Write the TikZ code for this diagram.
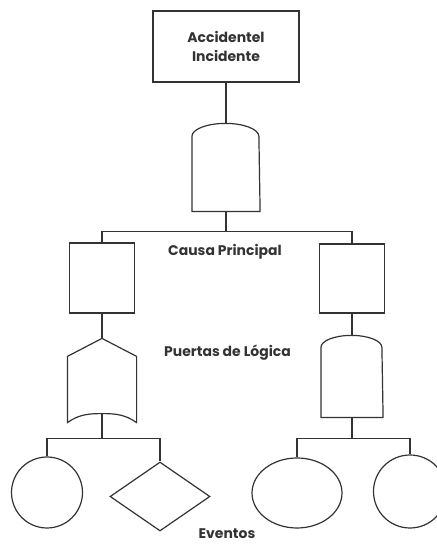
\documentclass[tikz,border=0pt]{standalone}
\usepackage{fontspec}
\setmainfont{Poppins}
\usetikzlibrary{shapes.geometric}

\begin{document}
\begin{tikzpicture}[x=1bp,y=1bp,
						color=black!80,
						line width=1.2bp,
						every node/.style={font=\bfseries\fontsize{14}{19}\selectfont},
						box/.style={draw,rectangle,inner sep=0pt},
						gatebox/.style={rectangle,inner sep=0pt}]

		\useasboundingbox (0,0) rectangle (437,544);

		\node[box,minimum width=146bp,minimum height=71bp,align=center] (top) at (226,497.5) {Accidentel\\Incidente};

		\node[gatebox,minimum width=67bp,minimum height=87bp] (and1) at (226,376.5) {};
		\node[box,minimum width=65bp,minimum height=70bp] (lcause) at (102,266) {};
		\node[box,minimum width=65bp,minimum height=69bp] (rcause) at (352,265.5) {};
		\node[gatebox,minimum width=68bp,minimum height=83bp] (or1) at (102,163.5) {};
		\node[gatebox,minimum width=61bp,minimum height=81bp] (and2) at (352,167.5) {};

		\node[draw,circle,minimum size=71bp,inner sep=0pt] (ev1) at (47,51.5) {};
		\node[draw,diamond,minimum width=100bp,minimum height=69bp,inner sep=0pt] (ev2) at (160,47.5) {};
		\node[draw,ellipse,minimum width=90bp,minimum height=70bp,inner sep=0pt] (ev3) at (297,51) {};
		\node[draw,circle,minimum size=73bp,inner sep=0pt] (ev4) at (410,52.5) {};

		\node (causa) at (225,292) {Causa Principal};
		\node (puertas) at (227.5,191) {Puertas de Lógica};
		\node[inner sep=1bp,text depth=0pt] (eventos) at (227,10) {Eventos};

		% gate outlines
		\draw (and1.south west) -- ([yshift=-13bp]and1.north west)
			arc[start angle=180,end angle=0,x radius=33.5bp,y radius=13bp] -- (and1.south east) -- cycle;
		\draw (and2.south west) -- ([yshift=-12bp]and2.north west)
			arc[start angle=180,end angle=0,x radius=30.5bp,y radius=12bp] -- (and2.south east) -- cycle;
		\draw ([yshift=-18bp]or1.north west) -- (or1.north) -- ([yshift=-18bp]or1.north east)
			-- (or1.south east) to[out=145,in=0] ([yshift=9bp]or1.south)
			to[out=180,in=35] (or1.south west) -- cycle;

		\draw (top) -- (and1);
		\draw (and1.south) -- ++(0,-20) -| (lcause.north);
		\draw (and1.south) -- ++(0,-20) -| (rcause.north);
		\draw (lcause) -- (or1.north);
		\draw (rcause) -- (and2);
		\draw ([yshift=9bp]or1.south) -- ++(0,-25) -| (ev1.north);
		\draw ([yshift=9bp]or1.south) -- ++(0,-25) -| (ev2.north);
		\draw (and2.south) -- ++(0,-21) -| (ev3.north);
		\draw (and2.south) -- ++(0,-21) -| (ev4.north);

	\end{tikzpicture}
\end{document}
